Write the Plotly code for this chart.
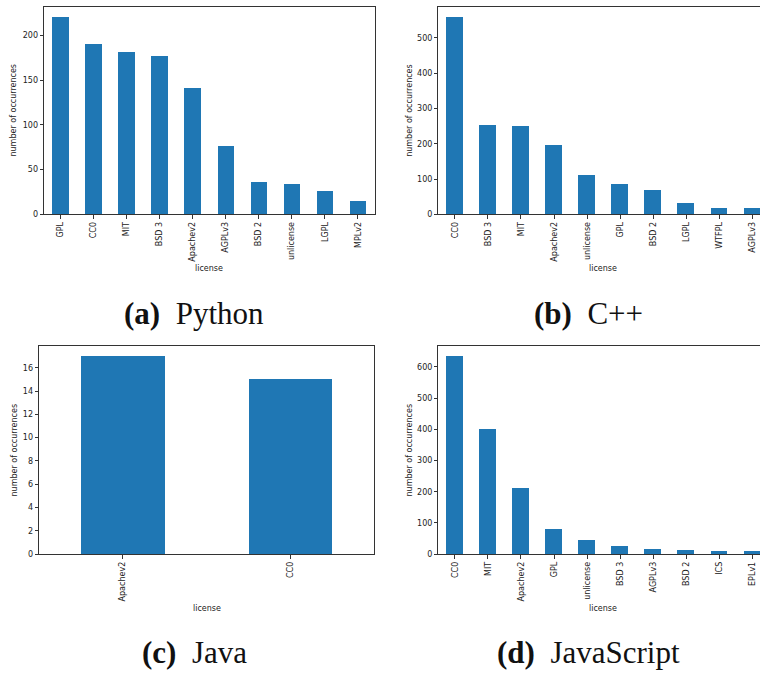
import plotly.graph_objects as go

# ---- data ----
py_labels = ["GPL", "CC0", "MIT", "BSD 3", "Apachev2", "AGPLv3", "BSD 2", "unlicense", "LGPL", "MPLv2"]
py_values = [221, 191, 182, 177, 142, 77, 37, 34, 27, 15]

cpp_labels = ["CC0", "BSD 3", "MIT", "Apachev2", "unlicense", "GPL", "BSD 2", "LGPL", "WTFPL", "AGPLv3"]
cpp_values = [560, 255, 252, 197, 113, 86, 70, 34, 20, 18]

java_labels = ["Apachev2", "CC0"]
java_values = [17, 15]

js_labels = ["CC0", "MIT", "Apachev2", "GPL", "unlicense", "BSD 3", "AGPLv3", "BSD 2", "ICS", "EPLv1"]
js_values = [635, 400, 213, 81, 45, 25, 17, 14, 10, 10]

captions = ["<b>(a)</b>&nbsp;&nbsp;Python", "<b>(b)</b>&nbsp;&nbsp;C++",
            "<b>(c)</b>&nbsp;&nbsp;Java", "<b>(d)</b>&nbsp;&nbsp;JavaScript"]

W, H = 760, 679
BLUE = "#1f77b4"
AX = "#333333"
TICKFONT = dict(family="DejaVu Sans", size=8, color="#222222")


def px(x):
    return x / W


def py(y):
    return 1 - y / H


panels = [
    # labels, values, x0, x1, ytop, ybot, xrange_max, dtick, mirror_y, xtitle_cx, ytitle_cx
    (py_labels, py_values, 44.0, 374.5, 6.7, 216.0, 9.5, 50, True, 209.3, 14.0),
    (cpp_labels, cpp_values, 438.4, 760.0, 6.7, 216.0, 9.236, 100, False, 603.4, 409.3),
    (java_labels, java_values, 39.0, 374.3, 348.7, 558.3, 1.5, 2, True, 206.7, 14.3),
    (js_labels, js_values, 438.4, 760.0, 348.7, 558.3, 9.236, 100, False, 603.4, 409.3),
]

fig = go.Figure()
annotations = []
for i, (labs, vals, x0, x1, yt, yb, xmax, dt, mir, tcx, ycx) in enumerate(panels):
    n = i + 1
    xa = "x" if n == 1 else f"x{n}"
    ya = "y" if n == 1 else f"y{n}"
    fig.add_trace(go.Bar(
        x=list(range(len(labs))), y=vals, xaxis=xa, yaxis=ya,
        marker=dict(color=BLUE, line=dict(width=0)), width=0.5,
        showlegend=False, hoverinfo="skip",
    ))
    xkey = "xaxis" if n == 1 else f"xaxis{n}"
    ykey = "yaxis" if n == 1 else f"yaxis{n}"
    fig.update_layout(**{
        xkey: dict(
            domain=[px(x0), px(x1)], anchor=ya, range=[-0.5, xmax],
            tickmode="array", tickvals=list(range(len(labs))), ticktext=labs,
            tickangle=-90, ticks="outside", ticklen=3.5, tickwidth=0.8, tickcolor=AX,
            showline=True, linecolor=AX, linewidth=0.8, mirror=True,
            showgrid=False, zeroline=False, tickfont=TICKFONT, fixedrange=True,
        ),
        ykey: dict(
            domain=[py(yb), py(yt)], anchor=xa, range=[0, max(vals) * 1.05],
            dtick=dt, tick0=0, ticks="outside", ticklen=3.5, tickwidth=0.8, tickcolor=AX,
            showline=True, linecolor=AX, linewidth=0.8, mirror=mir,
            showgrid=False, zeroline=False, tickfont=TICKFONT, fixedrange=True,
        ),
    })
    annotations.append(dict(
        text="license", xref="paper", yref="paper",
        x=px(tcx), y=py(yb + 54.5), xanchor="center", yanchor="middle",
        showarrow=False, font=TICKFONT,
    ))
    annotations.append(dict(
        text="number of occurrences", xref="paper", yref="paper",
        x=px(ycx), y=py((yt + yb) / 2), textangle=-90,
        xanchor="center", yanchor="middle", showarrow=False, font=TICKFONT,
    ))

cap_pos = [(194, 316), (588, 316), (194, 657), (588, 657)]
for (cx, cy), cap in zip(cap_pos, captions):
    annotations.append(dict(
        text=cap, xref="paper", yref="paper", x=px(cx), y=py(cy),
        xanchor="center", yanchor="middle", showarrow=False,
        font=dict(family="Liberation Serif", size=31, color="#111111"),
    ))

fig.update_layout(
    width=W, height=H, margin=dict(l=0, r=0, t=0, b=0),
    paper_bgcolor="white", plot_bgcolor="white",
    annotations=annotations, bargap=0,
)

fig.write_html(
    "out.html",
    config={"displayModeBar": False},
    post_script="document.body.style.margin='0';document.body.style.overflow='hidden';",
)
